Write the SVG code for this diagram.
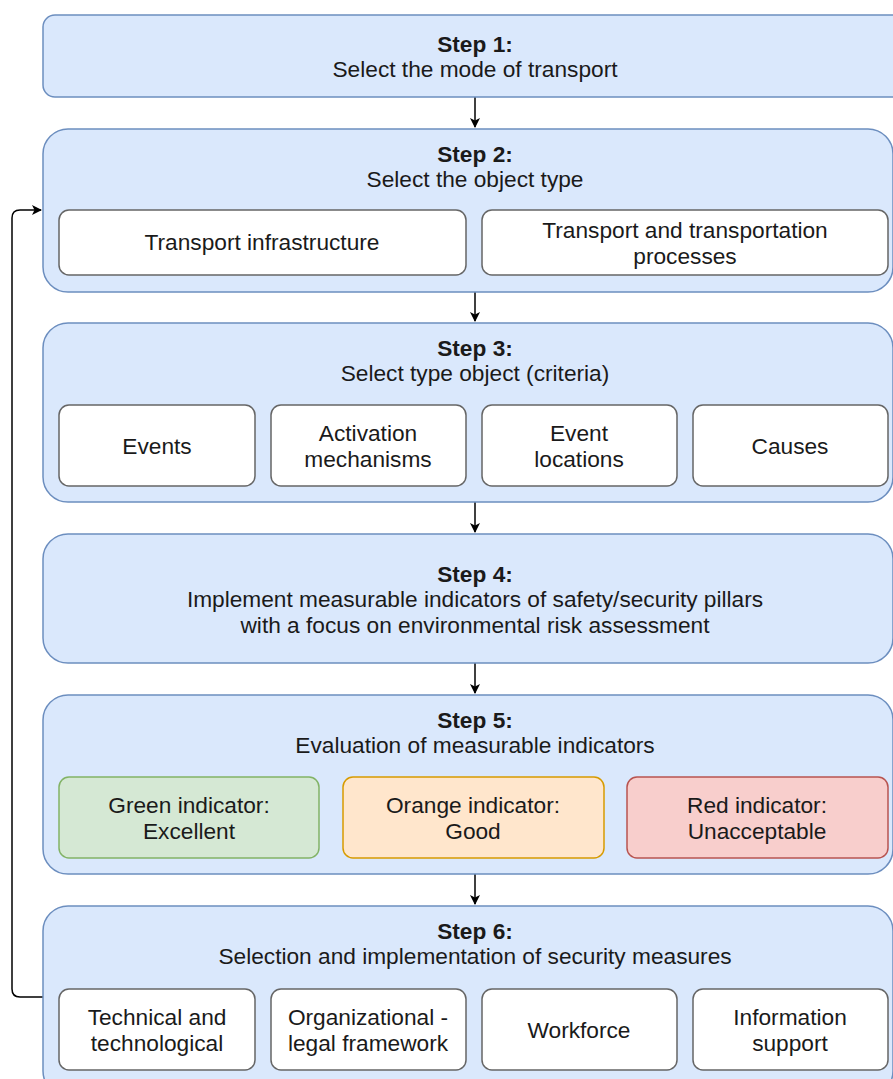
<svg xmlns="http://www.w3.org/2000/svg" width="893" height="1079" viewBox="0 0 893 1079">
<defs>
<marker id="arr" viewBox="0 0 10 10" refX="9" refY="5" markerWidth="10" markerHeight="10" markerUnits="userSpaceOnUse" orient="auto">
<path d="M0,0 L10,5 L0,10 L2.5,5 Z" fill="#000"/>
</marker>
<style>
.step{fill:#dae8fc;stroke:#6c8ebf;stroke-width:1.5}
.sub{fill:#fff;stroke:#666;stroke-width:1.5}
.g{fill:#d5e8d4;stroke:#82b366;stroke-width:1.5}
.o{fill:#ffe6cc;stroke:#d79b00;stroke-width:1.5}
.r{fill:#f8cecc;stroke:#b85450;stroke-width:1.5}
text{font-family:"Liberation Sans",Arial,sans-serif;font-size:22.7px;fill:#1a1a1a;text-anchor:middle}
.b{font-weight:bold}
.c{fill:none;stroke:#000;stroke-width:1.5}
</style>
</defs>
<g id="connectors">
<path class="c" d="M475,97 V127" marker-end="url(#arr)"/>
<path class="c" d="M475,292 V321" marker-end="url(#arr)"/>
<path class="c" d="M475,502 V532" marker-end="url(#arr)"/>
<path class="c" d="M475,663 V693" marker-end="url(#arr)"/>
<path class="c" d="M475,874 V904" marker-end="url(#arr)"/>
<path class="c" d="M43,997 H20 Q12,997 12,989 V218 Q12,210 20,210 H41" marker-end="url(#arr)"/>
</g>
<g id="step1">
<rect class="step" x="43" y="15" width="870" height="82" rx="12"/>
<text class="b" x="475" y="52">Step 1:</text>
<text x="475" y="77">Select the mode of transport</text>
</g>
<g id="step2">
<rect class="step" x="43" y="129" width="850" height="163" rx="25"/>
<text class="b" x="475" y="162">Step 2:</text>
<text x="475" y="187">Select the object type</text>
</g>
<g id="s2a"><rect class="sub" x="59" y="210" width="407" height="65" rx="10"/><text x="262" y="250">Transport infrastructure</text></g>
<g id="s2b"><rect class="sub" x="482" y="210" width="406" height="65" rx="10"/><text x="685" y="238">Transport and transportation</text><text x="685" y="264">processes</text></g>
<g id="step3">
<rect class="step" x="43" y="323" width="850" height="179" rx="25"/>
<text class="b" x="475" y="356">Step 3:</text>
<text x="475" y="381">Select type object (criteria)</text>
</g>
<g id="s3a"><rect class="sub" x="59" y="405" width="196" height="81" rx="10"/><text x="157" y="454">Events</text></g>
<g id="s3b"><rect class="sub" x="271" y="405" width="195" height="81" rx="10"/><text x="368" y="441">Activation</text><text x="368" y="467">mechanisms</text></g>
<g id="s3c"><rect class="sub" x="482" y="405" width="195" height="81" rx="10"/><text x="579" y="441">Event</text><text x="579" y="467">locations</text></g>
<g id="s3d"><rect class="sub" x="693" y="405" width="195" height="81" rx="10"/><text x="790" y="454">Causes</text></g>
<g id="step4">
<rect class="step" x="43" y="534" width="850" height="129" rx="25"/>
<text class="b" x="475" y="582">Step 4:</text>
<text x="475" y="607">Implement measurable indicators of safety/security pillars</text>
<text x="475" y="633">with a focus on environmental risk assessment</text>
</g>
<g id="step5">
<rect class="step" x="43" y="695" width="850" height="179" rx="25"/>
<text class="b" x="475" y="728">Step 5:</text>
<text x="475" y="753">Evaluation of measurable indicators</text>
</g>
<g id="s5a"><rect class="g" x="59" y="777" width="260" height="81" rx="10"/><text x="189" y="813">Green indicator:</text><text x="189" y="839">Excellent</text></g>
<g id="s5b"><rect class="o" x="343" y="777" width="261" height="81" rx="10"/><text x="473" y="813">Orange indicator:</text><text x="473" y="839">Good</text></g>
<g id="s5c"><rect class="r" x="627" y="777" width="261" height="81" rx="10"/><text x="757" y="813">Red indicator:</text><text x="757" y="839">Unacceptable</text></g>
<g id="step6">
<rect class="step" x="43" y="906" width="850" height="190" rx="25"/>
<text class="b" x="475" y="939">Step 6:</text>
<text x="475" y="964">Selection and implementation of security measures</text>
</g>
<g id="s6a"><rect class="sub" x="59" y="989" width="196" height="81" rx="10"/><text x="157" y="1025">Technical and</text><text x="157" y="1051">technological</text></g>
<g id="s6b"><rect class="sub" x="271" y="989" width="195" height="81" rx="10"/><text x="368" y="1025">Organizational -</text><text x="368" y="1051">legal framework</text></g>
<g id="s6c"><rect class="sub" x="482" y="989" width="195" height="81" rx="10"/><text x="579" y="1038">Workforce</text></g>
<g id="s6d"><rect class="sub" x="693" y="989" width="195" height="81" rx="10"/><text x="790" y="1025">Information</text><text x="790" y="1051">support</text></g>
</svg>
